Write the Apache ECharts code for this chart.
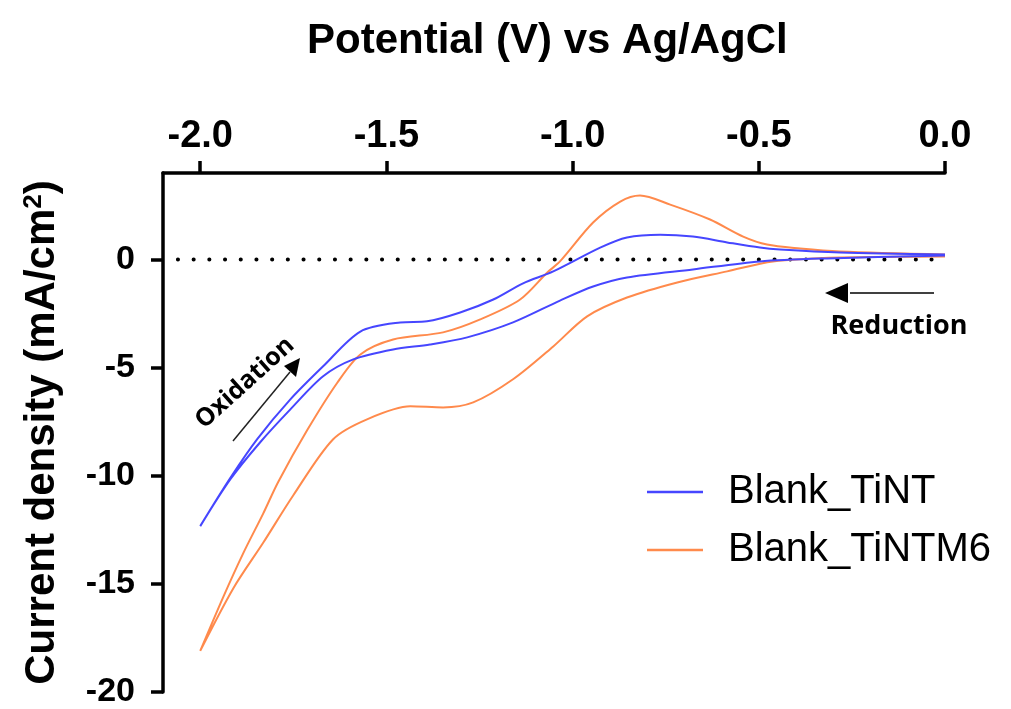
<!DOCTYPE html>
<html>
<head>
<meta charset="utf-8">
<script src="https://cdn.jsdelivr.net/npm/echarts@6/dist/echarts.min.js"></script>
<style>html,body{margin:0;padding:0;background:#fff}#c{width:1011px;height:709px}</style>
</head>
<body>
<div id="c"></div>
<script>
// ---- data (Potential V, Current density mA/cm2) ----
const xTicks = [-2.0, -1.5, -1.0, -0.5, 0.0];
const yTicks = [-20, -15, -10, -5, 0];
const seriesNames = ['Blank_TiNT', 'Blank_TiNTM6'];

// Blank_TiNT: reduction sweep (0 -> -2 V)
const tintRedV = [0, -0.317, -0.497, -0.677, -0.854, -0.945, -1.034, -1.160, -1.283, -1.383, -1.482, -1.589, -1.670, -1.758, -1.839, -1.919, -2.0];
const tintRedI = [0.18, 0.05, -0.09, -0.46, -0.83, -1.25, -1.90, -2.91, -3.60, -3.93, -4.16, -4.62, -5.40, -6.93, -8.45, -10.16, -12.33];
// Blank_TiNT: oxidation sweep (-2 -> 0 V)
const tintOxV = [-2.0, -1.919, -1.847, -1.758, -1.670, -1.570, -1.463, -1.391, -1.302, -1.213, -1.133, -1.052, -0.926, -0.854, -0.765, -0.677, -0.585, -0.497, -0.443, -0.282, 0];
const tintOxI = [-12.33, -10.10, -8.31, -6.47, -4.94, -3.33, -2.91, -2.86, -2.45, -1.85, -1.10, -0.55, 0.55, 1.02, 1.15, 1.06, 0.79, 0.55, 0.46, 0.32, 0.23];

// Blank_TiNTM6: reduction sweep (0 -> -2 V)
const m6RedV = [0, -0.282, -0.462, -0.585, -0.719, -0.854, -0.961, -1.052, -1.160, -1.267, -1.348, -1.436, -1.552, -1.643, -1.750, -1.831, -1.911, -2.0];
const m6RedI = [0.14, 0.09, -0.09, -0.55, -1.06, -1.76, -2.63, -4.02, -5.54, -6.61, -6.84, -6.79, -7.39, -8.31, -10.90, -13.10, -15.20, -18.1];
// Blank_TiNTM6: oxidation sweep (-2 -> 0 V)
const m6OxV = [-2.0, -1.938, -1.885, -1.831, -1.791, -1.713, -1.632, -1.570, -1.482, -1.348, -1.248, -1.141, -1.068, -1.034, -0.945, -0.872, -0.819, -0.738, -0.631, -0.542, -0.478, -0.389, -0.282, 0];
const m6OxI = [-18.1, -15.60, -13.60, -11.75, -10.30, -7.90, -5.70, -4.39, -3.70, -3.37, -2.77, -1.85, -0.60, -0.09, 1.71, 2.68, 2.96, 2.54, 1.85, 1.06, 0.69, 0.51, 0.37, 0.23];

const zeroLineV = [-2.06, -0.03];

// ---- build ----
function pairs(v, i) { return v.map((x, k) => [x, i[k]]); }
const tintData = pairs(tintRedV, tintRedI).concat(pairs(tintOxV, tintOxI));
const m6Data = pairs(m6RedV, m6RedI).concat(pairs(m6OxV, m6OxI));

const BLUE = '#4646ff';
const ORANGE = '#ff8a4c';
const FONT = 'Liberation Sans, Arial, sans-serif';

const chart = echarts.init(document.getElementById('c'), null, { renderer: 'canvas' });

chart.setOption({
  backgroundColor: '#ffffff',
  animation: false,
  title: {
    text: 'Potential (V) vs Ag/AgCl',
    left: 302, top: 15,
    textStyle: { fontFamily: FONT, fontWeight: 'bold', fontSize: 42, color: '#000' }
  },
  grid: { left: 163, right: 66, top: 173, bottom: 16, containLabel: false },
  legend: {
    data: seriesNames,
    orient: 'vertical',
    left: 642, top: 467,
    icon: 'rect', itemWidth: 56, itemHeight: 2.5, itemGap: 18,
    textStyle: { fontFamily: FONT, fontSize: 40, color: '#000', padding: [0, 0, 0, 20] }
  },
  xAxis: {
    type: 'value', position: 'top', min: -2.1, max: 0,
    axisLine: { show: true, onZero: false, lineStyle: { color: '#000', width: 3.5 } },
    axisTick: { show: true, customValues: xTicks, length: 12, inside: false, lineStyle: { color: '#000', width: 3.5 } },
    axisLabel: { customValues: xTicks, formatter: v => v.toFixed(1), fontFamily: FONT, fontWeight: 'bold', fontSize: 38, color: '#000', margin: 17 },
    splitLine: { show: false }
  },
  yAxis: {
    type: 'value', min: -20, max: 4,
    name: 'Current density (mA/cm{sup|2})',
    nameLocation: 'middle', nameGap: 100, nameRotate: 90,
    nameTextStyle: { fontFamily: FONT, fontWeight: 'bold', fontSize: 42, color: '#000',
      rich: { sup: { fontFamily: FONT, fontWeight: 'bold', fontSize: 26, verticalAlign: 'top', padding: [0, 0, 16, 0] } } },
    axisLine: { show: true, onZero: false, lineStyle: { color: '#000', width: 3.5 } },
    axisTick: { show: true, customValues: yTicks, length: 12, lineStyle: { color: '#000', width: 3.5 } },
    axisLabel: { customValues: yTicks, fontFamily: FONT, fontWeight: 'bold', fontSize: 34, color: '#000', margin: 28 },
    splitLine: { show: false }
  },
  series: [
    {
      name: 'zero', type: 'line', silent: true, showSymbol: false,
      data: zeroLineV.map(v => [v, 0]),
      lineStyle: { color: '#000', width: 4, type: [0.1, 15.6], cap: 'round' },
      z: 1
    },
    {
      name: seriesNames[0], type: 'line', data: tintData, showSymbol: false, smooth: 0.3,
      color: BLUE, lineStyle: { color: BLUE, width: 2 }, z: 3
    },
    {
      name: seriesNames[1], type: 'line', data: m6Data, showSymbol: false, smooth: 0.3,
      color: ORANGE, lineStyle: { color: ORANGE, width: 2 }, z: 2
    }
  ],
  graphic: [
    // Oxidation arrow
    { type: 'line', shape: { x1: 233, y1: 441, x2: 290, y2: 372 }, style: { stroke: '#222', lineWidth: 1.5 } },
    { type: 'polygon', shape: { points: [[300, 358], [284, 366], [296, 377]] }, style: { fill: '#000' } },
    { type: 'text', x: 245, y: 383, rotation: 42 * Math.PI / 180,
      style: { text: 'Oxidation', fontFamily: 'Open Sans, sans-serif', fontWeight: 'bold', fontSize: 25, fill: '#000', align: 'center', verticalAlign: 'middle' } },
    // Reduction arrow
    { type: 'line', shape: { x1: 934, y1: 293, x2: 850, y2: 293 }, style: { stroke: '#000', lineWidth: 1.5 } },
    { type: 'polygon', shape: { points: [[825, 293], [848, 283], [848, 303]] }, style: { fill: '#000' } },
    { type: 'text', x: 899, y: 326,
      style: { text: 'Reduction', fontFamily: 'Open Sans, sans-serif', fontWeight: 'bold', fontSize: 27, fill: '#000', align: 'center', verticalAlign: 'middle' } }
  ]
});
</script>
</body>
</html>
